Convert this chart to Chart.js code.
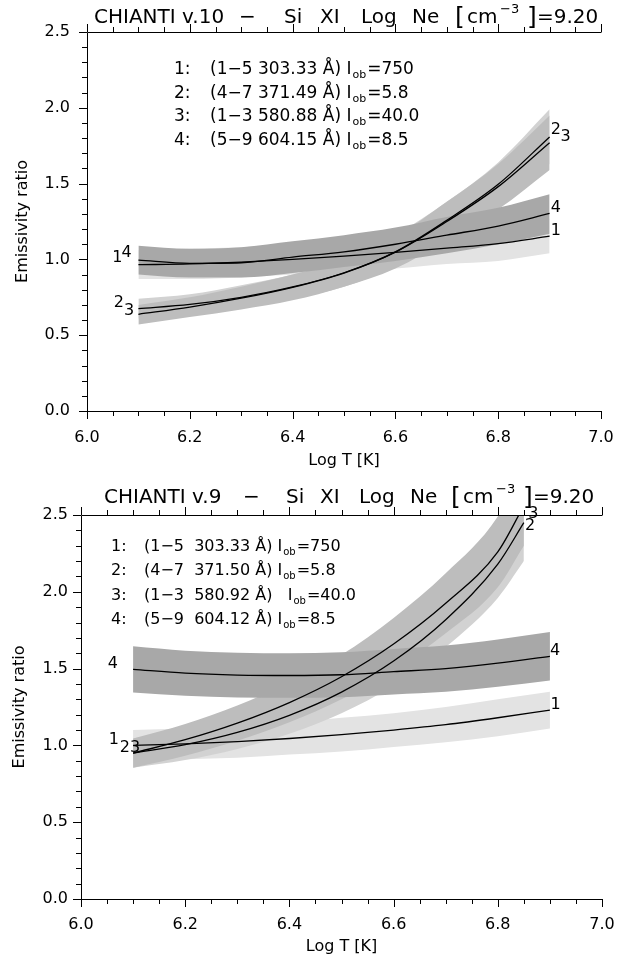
<!DOCTYPE html>
<html lang="en">
<head>
<meta charset="UTF-8"/>
<title>Si XI emissivity ratios</title>
<script src="https://cdn.jsdelivr.net/npm/chart.js"></script>
<style>
  body { margin: 0; background: #fff; }
  .panel { position: relative; width: 640px; height: 481px; }
</style>
</head>
<body>
<div class="panel"><canvas id="chartV10" width="640" height="481"></canvas></div>
<div class="panel"><canvas id="chartV9" width="640" height="481"></canvas></div>
<script>
// temperature grids (Log T)
const logT = [6.1, 6.2, 6.3, 6.4, 6.5, 6.6, 6.7, 6.8, 6.9];
const logTShort = [6.1, 6.2, 6.3, 6.4, 6.5, 6.6, 6.7, 6.8, 6.85]; // v.9 ratios 2,3 stop near the top

// CHIANTI v.10 ratios
const v10Ratio1 = [0.965, 0.970, 0.982, 1.000, 1.022, 1.046, 1.074, 1.104, 1.153];
const v10Ratio2 = [0.675, 0.703, 0.750, 0.818, 0.912, 1.050, 1.258, 1.495, 1.808];
const v10Ratio3 = [0.638, 0.685, 0.744, 0.816, 0.910, 1.048, 1.250, 1.480, 1.770];
const v10Ratio4 = [0.995, 0.974, 0.978, 1.015, 1.050, 1.100, 1.160, 1.220, 1.303];
// shaded uncertainty bands (upper / lower edges)
const v10Hi1 = [1.06, 1.07, 1.08, 1.10, 1.12, 1.15, 1.18, 1.21, 1.27];
const v10Lo1 = [0.87, 0.87, 0.88, 0.90, 0.92, 0.94, 0.97, 0.99, 1.04];
const v10Hi2 = [0.74, 0.77, 0.83, 0.90, 1.00, 1.16, 1.38, 1.64, 1.99];
const v10Lo2 = [0.61, 0.63, 0.68, 0.74, 0.82, 0.95, 1.13, 1.35, 1.63];
const v10Hi3 = [0.70, 0.75, 0.82, 0.90, 1.00, 1.15, 1.38, 1.63, 1.95];
const v10Lo3 = [0.57, 0.62, 0.67, 0.73, 0.82, 0.94, 1.13, 1.33, 1.59];
const v10Hi4 = [1.09, 1.07, 1.08, 1.12, 1.16, 1.21, 1.28, 1.34, 1.43];
const v10Lo4 = [0.90, 0.88, 0.88, 0.91, 0.95, 0.99, 1.04, 1.10, 1.17];

// CHIANTI v.9 ratios
const v9Ratio1 = [1.000, 1.010, 1.025, 1.045, 1.070, 1.100, 1.135, 1.180, 1.230];
const v9Ratio2 = [0.950, 1.005, 1.085, 1.196, 1.347, 1.549, 1.818, 2.180, 2.450];
const v9Ratio3 = [0.950, 1.037, 1.145, 1.279, 1.447, 1.660, 1.925, 2.260, 2.560];
const v9Ratio4 = [1.495, 1.470, 1.458, 1.455, 1.460, 1.480, 1.500, 1.535, 1.580];
const v9Hi1 = [1.10, 1.11, 1.13, 1.15, 1.18, 1.21, 1.25, 1.30, 1.35];
const v9Lo1 = [0.90, 0.91, 0.92, 0.94, 0.96, 0.99, 1.02, 1.06, 1.11];
const v9Hi2 = [1.045, 1.105, 1.19, 1.32, 1.48, 1.70, 2.00, 2.40, 2.70];
const v9Lo2 = [0.855, 0.905, 0.977, 1.076, 1.21, 1.39, 1.64, 1.96, 2.20];
const v9Hi3 = [1.045, 1.14, 1.26, 1.41, 1.59, 1.83, 2.12, 2.49, 2.82];
const v9Lo3 = [0.855, 0.933, 1.03, 1.15, 1.30, 1.49, 1.73, 2.03, 2.30];
const v9Hi4 = [1.645, 1.617, 1.604, 1.600, 1.606, 1.628, 1.650, 1.689, 1.738];
const v9Lo4 = [1.345, 1.323, 1.312, 1.310, 1.314, 1.332, 1.350, 1.382, 1.422];

// axis ticks
const xTickValues = [6.0, 6.2, 6.4, 6.6, 6.8, 7.0];
const xTickLabels = ['6.0', '6.2', '6.4', '6.6', '6.8', '7.0'];
const yTickValues = [0, 0.5, 1.0, 1.5, 2.0, 2.5];
const yTickLabels = ['0.0', '0.5', '1.0', '1.5', '2.0', '2.5'];

const bandColors = ['#e3e3e3', '#d2d2d2', '#bdbdbd', '#a8a8a8'];
const FONT = 'DejaVu Sans';
Chart.defaults.font.family = FONT;

const pts = (arr, t) => t.map((v, i) => ({ x: v, y: arr[i] }));

// axis lines + minor/major ticks (IDL style, ticks outward, no right axis)
const axisFrame = {
  id: 'axisFrame',
  afterDraw(chart) {
    const { ctx, chartArea: a, scales: { x, y } } = chart;
    ctx.save();
    ctx.strokeStyle = '#000';
    ctx.lineWidth = 1;
    ctx.beginPath();
    ctx.moveTo(a.left + 0.5, a.top + 0.5);
    ctx.lineTo(a.left + 0.5, a.bottom + 0.5);
    ctx.lineTo(a.right + 0.5, a.bottom + 0.5);
    ctx.moveTo(a.left + 0.5, a.top + 0.5);
    ctx.lineTo(a.right + 0.5, a.top + 0.5);
    for (let i = 0; i <= 20; i++) {
      const px = Math.round(x.getPixelForValue(6 + i * 0.05)) + 0.5;
      const len = i % 4 === 0 ? 8 : 5;
      ctx.moveTo(px, a.bottom); ctx.lineTo(px, a.bottom + len);
      ctx.moveTo(px, a.top); ctx.lineTo(px, a.top - len);
    }
    for (let i = 0; i <= 25; i++) {
      const py = Math.round(y.getPixelForValue(i * 0.1)) + 0.5;
      const len = i % 5 === 0 ? 8 : 5;
      ctx.moveTo(a.left, py); ctx.lineTo(a.left - len, py);
    }
    ctx.stroke();
    ctx.restore();
  }
};

// title, legend lines and curve labels
const annotations = {
  id: 'annotations',
  afterDraw(chart, args, o) {
    const { ctx, scales: { x, y } } = chart;
    ctx.save();
    ctx.fillStyle = '#000';
    ctx.textBaseline = 'alphabetic';
    ctx.textAlign = 'left';
    o.title.forEach(s => {
      ctx.font = (s.size || 20) + 'px "' + FONT + '"';
      ctx.fillText(s.t, s.x, o.titleBase + (s.dy || 0));
    });
    o.legend.rows.forEach((r, i) => {
      const base = o.legend.y0 + i * o.legend.dy;
      ctx.font = o.legend.size + 'px "' + FONT + '"';
      ctx.fillText(r[0], o.legend.xNum, base);
      ctx.fillText(r[1], o.legend.xText, base);
      let cx = o.legend.xText + ctx.measureText(r[1]).width;
      ctx.font = Math.round(o.legend.size * 0.62) + 'px "' + FONT + '"';
      ctx.fillText('ob', cx + 1, base + 4);
      cx += ctx.measureText('ob').width + 2;
      ctx.font = o.legend.size + 'px "' + FONT + '"';
      ctx.fillText(r[2], cx, base);
    });
    ctx.textAlign = 'center';
    ctx.textBaseline = 'middle';
    ctx.font = '16px "' + FONT + '"';
    o.labels.forEach(l => {
      ctx.fillText(l.t, x.getPixelForValue(l.x), y.getPixelForValue(l.y));
    });
    ctx.restore();
  }
};

function buildChart(id, series, hi, lo, grids, frame, text) {
  const datasets = [];
  series.forEach((s, i) => {
    datasets.push({ data: pts(hi[i], grids[i]), fill: '+1', backgroundColor: bandColors[i],
      borderColor: 'rgba(0,0,0,0)', borderWidth: 0, pointRadius: 0, order: 10 - i,
      cubicInterpolationMode: 'monotone' });
    datasets.push({ data: pts(lo[i], grids[i]), fill: false, borderColor: 'rgba(0,0,0,0)',
      borderWidth: 0, pointRadius: 0, order: 10 - i, cubicInterpolationMode: 'monotone' });
  });
  series.forEach((s, i) => {
    datasets.push({ data: pts(s, grids[i]), fill: false, borderColor: '#000', borderWidth: 1.3,
      pointRadius: 0, order: 0, cubicInterpolationMode: 'monotone' });
  });

  return new Chart(document.getElementById(id), {
    type: 'line',
    data: { datasets },
    plugins: [axisFrame, annotations],
    options: {
      responsive: false,
      animation: false,
      layout: { padding: { top: frame.top, right: frame.right, left: 0, bottom: 0 } },
      plugins: {
        legend: { display: false },
        tooltip: { enabled: false },
        annotations: text
      },
      scales: {
        x: {
          type: 'linear', min: 6, max: 7,
          afterBuildTicks: s => { s.ticks = xTickValues.map(v => ({ value: v })); },
          afterFit: s => { s.height = frame.xHeight; },
          ticks: { callback: (v, i) => xTickLabels[i], color: '#000', font: { size: 16 },
            padding: frame.xTickPad, maxRotation: 0, autoSkip: false },
          grid: { display: false, drawTicks: false },
          border: { display: false },
          title: { display: true, text: 'Log T [K]', color: '#000', font: { size: 16 },
            padding: { top: 0, bottom: frame.xTitlePad } }
        },
        y: {
          min: 0, max: 2.5,
          afterBuildTicks: s => { s.ticks = yTickValues.map(v => ({ value: v })); },
          afterFit: s => { s.width = frame.left; },
          ticks: { callback: (v, i) => yTickLabels[i], color: '#000', font: { size: 16 },
            padding: frame.yTickPad },
          grid: { display: false, drawTicks: false },
          border: { display: false },
          title: { display: true, text: 'Emissivity ratio', color: '#000', font: { size: 16 },
            padding: { top: frame.yTitlePad, bottom: 0 } }
        }
      }
    }
  });
}

buildChart('chartV10',
  [v10Ratio1, v10Ratio2, v10Ratio3, v10Ratio4],
  [v10Hi1, v10Hi2, v10Hi3, v10Hi4],
  [v10Lo1, v10Lo2, v10Lo3, v10Lo4],
  [logT, logT, logT, logT],
  { top: 32, right: 39, left: 87, xHeight: 70, xTickPad: 17, xTitlePad: 11, yTickPad: 17, yTitlePad: 13 },
  {
    titleBase: 23,
    title: [
      { t: 'CHIANTI v.10', x: 94 }, { t: '\u2212', x: 239 }, { t: 'Si', x: 284 }, { t: 'XI', x: 320 },
      { t: 'Log', x: 361 }, { t: 'Ne', x: 412 }, { t: '[', x: 455, size: 25, dy: 2 },
      { t: 'cm', x: 467 }, { t: '\u22123', x: 500, size: 13, dy: -10 }, { t: ']', x: 527, size: 25, dy: 2 },
      { t: '=9.20', x: 537 }
    ],
    legend: {
      size: 17, xNum: 174, xText: 210, y0: 74, dy: 23.5,
      rows: [
        ['1:', '(1\u22125 303.33 \u00c5) I', '=750'],
        ['2:', '(4\u22127 371.49 \u00c5) I', '=5.8'],
        ['3:', '(1\u22123 580.88 \u00c5) I', '=40.0'],
        ['4:', '(5\u22129 604.15 \u00c5) I', '=8.5']
      ]
    },
    labels: [
      { t: '1', x: 6.059, y: 1.011 }, { t: '4', x: 6.077, y: 1.041 },
      { t: '2', x: 6.062, y: 0.712 }, { t: '3', x: 6.082, y: 0.660 },
      { t: '2', x: 6.912, y: 1.854 }, { t: '3', x: 6.931, y: 1.810 },
      { t: '4', x: 6.912, y: 1.338 }, { t: '1', x: 6.912, y: 1.190 }
    ]
  });

buildChart('chartV9',
  [v9Ratio1, v9Ratio2, v9Ratio3, v9Ratio4],
  [v9Hi1, v9Hi2, v9Hi3, v9Hi4],
  [v9Lo1, v9Lo2, v9Lo3, v9Lo4],
  [logT, logTShort, logTShort, logT],
  { top: 34, right: 38, left: 81, xHeight: 63, xTickPad: 16, xTitlePad: 6, yTickPad: 13, yTitlePad: 10 },
  {
    titleBase: 22,
    title: [
      { t: 'CHIANTI v.9', x: 104 }, { t: '\u2212', x: 243 }, { t: 'Si', x: 286 }, { t: 'XI', x: 320 },
      { t: 'Log', x: 359 }, { t: 'Ne', x: 410 }, { t: '[', x: 451, size: 25, dy: 2 },
      { t: 'cm', x: 463 }, { t: '\u22123', x: 496, size: 13, dy: -10 }, { t: ']', x: 523, size: 25, dy: 2 },
      { t: '=9.20', x: 533 }
    ],
    legend: {
      size: 16, xNum: 111, xText: 144, y0: 70, dy: 24.3,
      rows: [
        ['1:', '(1\u22125  303.33 \u00c5) I', '=750'],
        ['2:', '(4\u22127  371.50 \u00c5) I', '=5.8'],
        ['3:', '(1\u22123  580.92 \u00c5)   I', '=40.0'],
        ['4:', '(5\u22129  604.12 \u00c5) I', '=8.5']
      ]
    },
    labels: [
      { t: '4', x: 6.061, y: 1.529 }, { t: '4', x: 6.910, y: 1.616 },
      { t: '1', x: 6.911, y: 1.266 }, { t: '1', x: 6.063, y: 1.037 },
      { t: '2', x: 6.084, y: 0.983 }, { t: '3', x: 6.104, y: 0.983 },
      { t: '2', x: 6.862, y: 2.430 }, { t: '3', x: 6.868, y: 2.510 }
    ]
  });
</script>
</body>
</html>
